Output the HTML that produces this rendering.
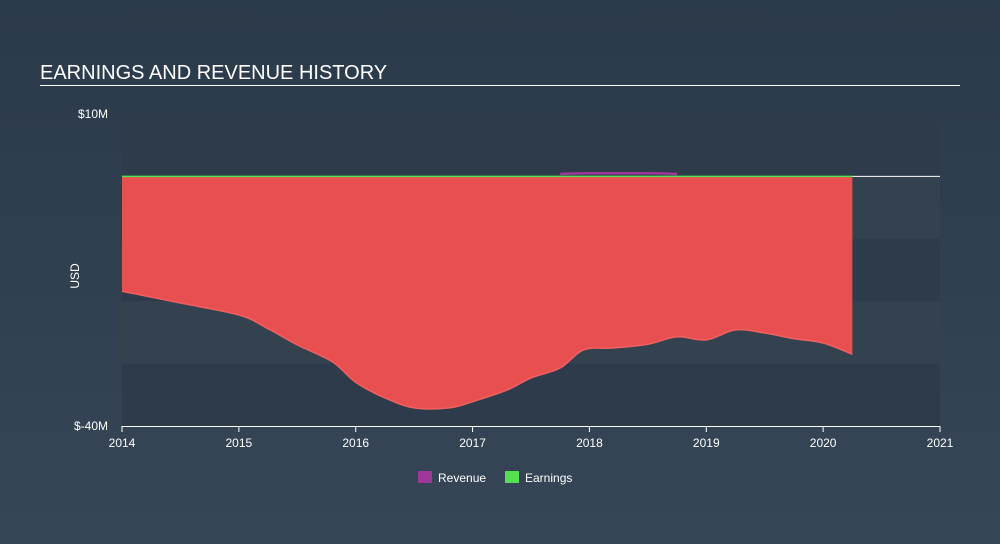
<!DOCTYPE html>
<html><head><meta charset="utf-8"><style>
html,body{margin:0;width:1000px;height:544px;overflow:hidden;background:#2c3a4a;font-family:"Liberation Sans",sans-serif;}
svg{display:block}
</style></head><body>
<svg width="1000" height="544" id="c">
<defs><linearGradient id="bg" x1="0" y1="0" x2="0" y2="1"><stop offset="0" stop-color="#2b3a4a"/><stop offset="1" stop-color="#364656"/></linearGradient></defs>
<rect width="1000" height="544" fill="url(#bg)"/>
<text x="40" y="79" fill="#fff" font-size="20">EARNINGS AND REVENUE HISTORY</text>
<line x1="40" y1="85.5" x2="960" y2="85.5" stroke="#fff" stroke-width="1"/>
<text x="73" y="270" fill="#fff" font-size="12" transform="rotate(-90 79 270)" text-anchor="middle">USD</text>
<g id="bands"></g><g id="marks"></g><g id="axes"></g>
<g>
<rect x="418" y="471" width="14" height="12" fill="#a0379a"/>
<text x="438" y="482" fill="#fff" font-size="12">Revenue</text>
<rect x="505" y="471" width="14" height="12" fill="#55e050"/>
<text x="525" y="482" fill="#fff" font-size="12">Earnings</text>
</g>
</svg>
<script>
const earnYears=[2014,2014.5,2015,2015.25,2015.5,2015.8,2016,2016.25,2016.5,2016.8,2017,2017.3,2017.5,2017.75,2017.95,2018.2,2018.5,2018.75,2019,2019.25,2019.5,2019.75,2020,2020.25];
const earnValues=[-18.4,-20.3,-22.2,-24.4,-27,-29.7,-33,-35.5,-37.1,-37.1,-36.1,-34.2,-32.3,-30.7,-27.8,-27.5,-26.9,-25.7,-26.2,-24.6,-25.1,-26,-26.7,-28.5];
const revYears=[2017.75,2018,2018.5,2018.75];
const revValues=[0.4,0.5,0.5,0.4];
const yTicks=[10,-40];
const yTickLabels=["$10M","$-40M"];
const xTicks=[2014,2015,2016,2017,2018,2019,2020,2021];
const NS="http://www.w3.org/2000/svg";
const X=y=>122+(y-2014)*(940-122)/7;
const Y=v=>114+(10-v)*(426-114)/50;
function mk(t,a,p){const e=document.createElementNS(NS,t);for(const k in a)e.setAttribute(k,a[k]);document.getElementById(p).appendChild(e);return e;}
for(let i=0;i<5;i++){const v=10-i*10;
const r=mk('rect',{x:122,y:Y(v),width:818,height:Y(v-10)-Y(v),fill:i%2==0?'#2d3b4b':'#34424f'},'bands');

}
function smooth(pts){let d='M'+pts[0][0]+','+pts[0][1];for(let i=1;i<pts.length;i++){const p0=pts[i-2]||pts[i-1],p1=pts[i-1],p2=pts[i],p3=pts[i+1]||p2;d+=' C'+(p1[0]+(p2[0]-p0[0])/6)+','+(p1[1]+(p2[1]-p0[1])/6)+' '+(p2[0]-(p3[0]-p1[0])/6)+','+(p2[1]-(p3[1]-p1[1])/6)+' '+p2[0]+','+p2[1];}return d;}
const ep=earnYears.map((y,i)=>[X(y),Y(earnValues[i])]);
const last=earnYears[earnYears.length-1];
const sp=smooth(ep);
const area=mk('path',{d:'M'+X(2014)+','+Y(0)+' L'+ep[0][0]+','+ep[0][1]+sp.slice(sp.indexOf(' C'))+' L'+X(last)+','+Y(0)+'Z',fill:'#e84f50'},'marks');


const el=mk('path',{d:sp,fill:'none',stroke:'#f06060','stroke-width':1.5},'marks');


const z=mk('line',{x1:X(2014),x2:X(last),y1:Y(0),y2:Y(0),stroke:'#55e050','stroke-width':1.5},'marks');


const zw=mk('line',{x1:X(last),x2:940,y1:Y(0),y2:Y(0),stroke:'#fff','stroke-width':1},'marks');


const rl=mk('path',{d:smooth(revYears.map((y,i)=>[X(y),Y(revValues[i])])),fill:'none',stroke:'#a0379a','stroke-width':2.5},'marks');


const xl=mk('line',{x1:122,x2:940,y1:426.5,y2:426.5,stroke:'#fff','stroke-width':1},'axes');


yTicks.forEach((v,i)=>{const t=mk('text',{x:108,y:Y(v)+4,fill:'#fff','font-size':12,'text-anchor':'end'},'axes');t.textContent=yTickLabels[i];

});
xTicks.forEach(v=>{const l=mk('line',{x1:X(v),x2:X(v),y1:426,y2:432,stroke:'#fff'},'axes');


const t=mk('text',{x:X(v),y:447,fill:'#fff','font-size':12,'text-anchor':'middle'},'axes');t.textContent=v;

});
</script>
</body></html>
